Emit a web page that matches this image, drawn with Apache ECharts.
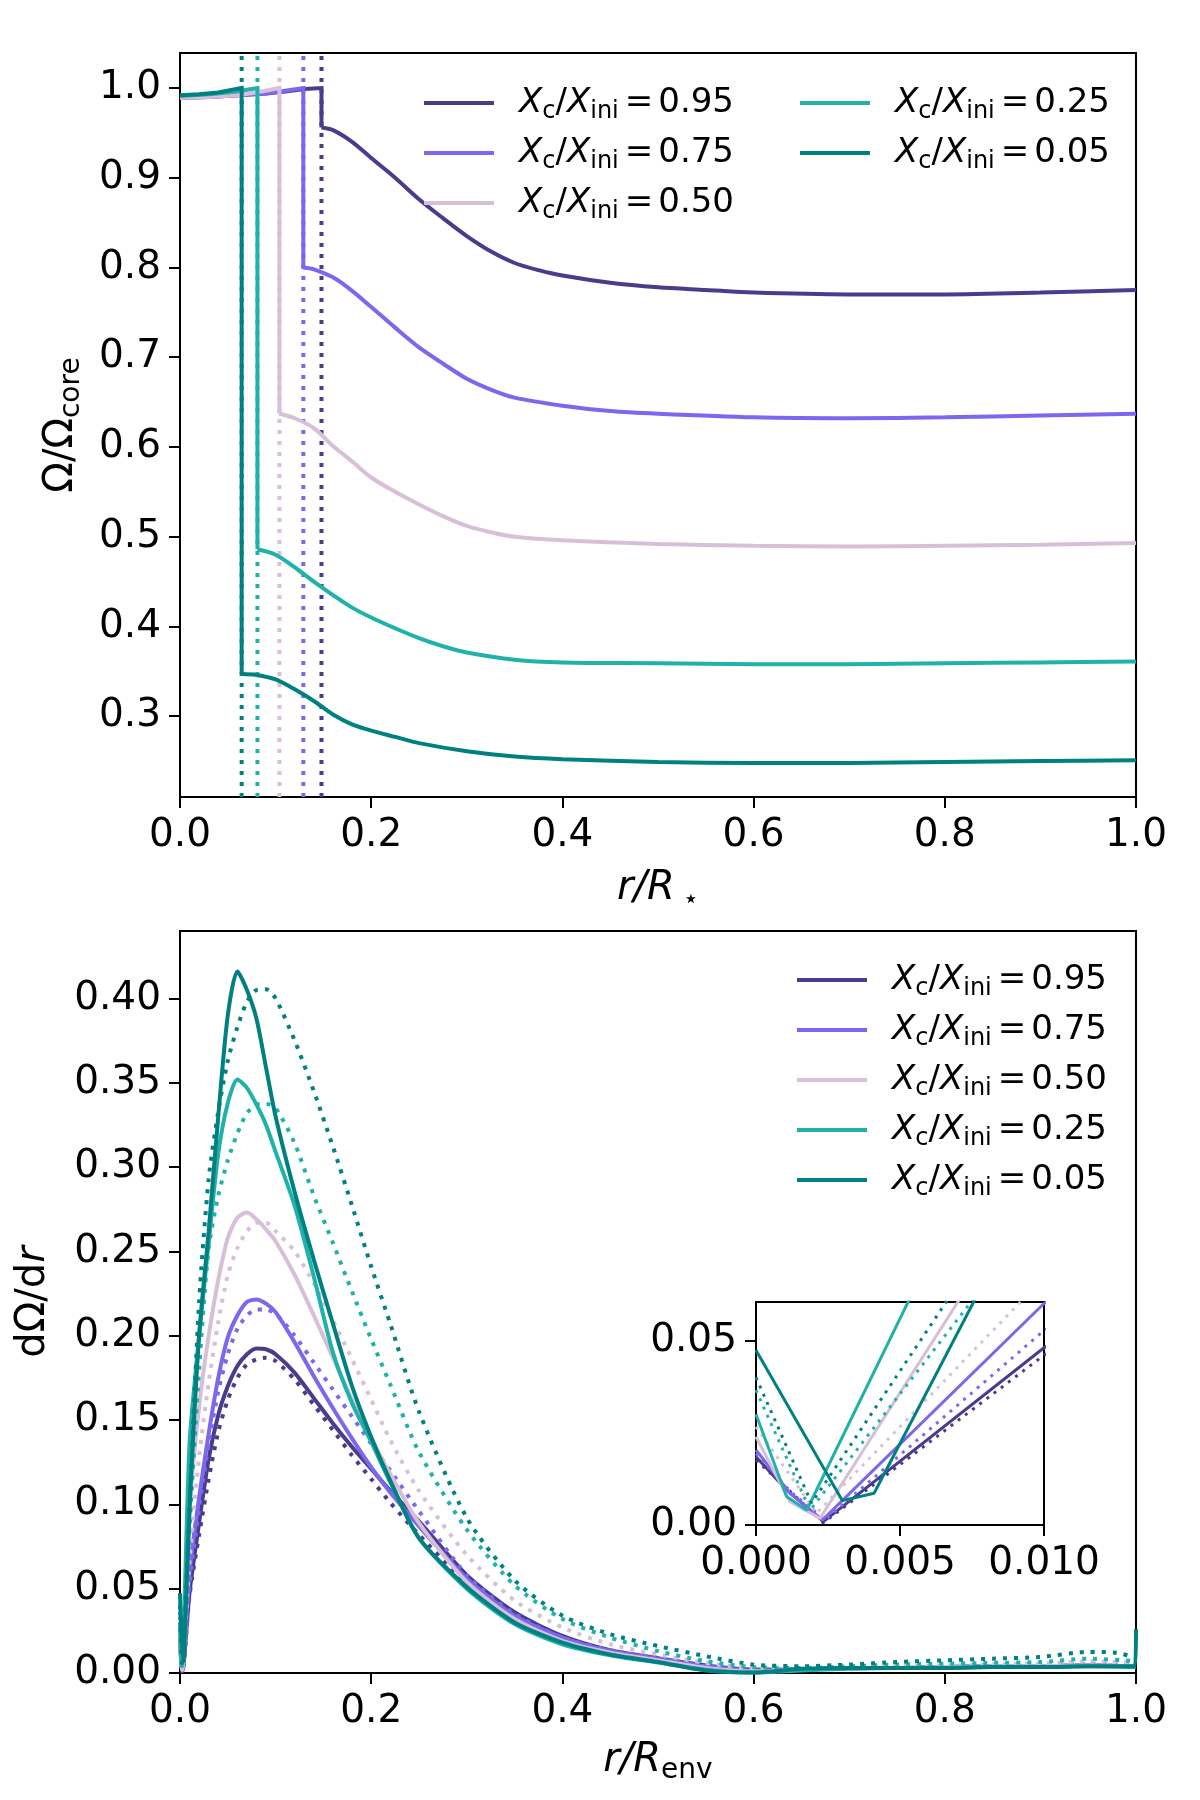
<!DOCTYPE html>
<html><head><meta charset="utf-8">
<script src="https://cdn.jsdelivr.net/npm/echarts@6/dist/echarts.min.js"></script>
<style>html,body{margin:0;padding:0;background:#fff}#c{width:1200px;height:1800px}</style>
</head><body><div id="c"></div>
<script>
// ---------- data ----------
const modelLabels = ['0.95', '0.75', '0.50', '0.25', '0.05'];
const modelColors = ['#483D8B', '#7B68EE', '#D8BFD8', '#20B2AA', '#008080'];
const jumpX = [0.148, 0.129, 0.104, 0.081, 0.0645];

// top panel: Omega/Omega_core vs r/R*
const omega95 = [[0,0.989],[0.03,0.990],[0.06,0.992],[0.09,0.994],[0.11,0.996],[0.13,0.999],[0.148,1.0],[0.148,0.956],[0.16,0.953],[0.18,0.940],[0.2,0.922],[0.225,0.900],[0.25,0.876],[0.275,0.855],[0.3,0.835],[0.325,0.818],[0.35,0.805],[0.375,0.797],[0.4,0.791],[0.45,0.783],[0.5,0.778],[0.55,0.775],[0.6,0.772],[0.7,0.770],[0.8,0.770],[0.9,0.772],[1.0,0.775]];
const omega75 = [[0,0.989],[0.03,0.990],[0.06,0.992],[0.09,0.994],[0.11,0.997],[0.129,1.0],[0.129,0.800],[0.14,0.798],[0.16,0.789],[0.18,0.774],[0.2,0.756],[0.225,0.733],[0.25,0.711],[0.275,0.693],[0.3,0.676],[0.325,0.664],[0.35,0.655],[0.4,0.646],[0.45,0.640],[0.5,0.637],[0.6,0.633],[0.7,0.632],[0.8,0.633],[0.9,0.635],[1.0,0.637]];
const omega50 = [[0,0.989],[0.03,0.990],[0.06,0.992],[0.08,0.995],[0.095,0.998],[0.104,1.0],[0.104,0.637],[0.12,0.632],[0.14,0.621],[0.16,0.601],[0.18,0.584],[0.2,0.566],[0.225,0.550],[0.25,0.536],[0.275,0.523],[0.3,0.512],[0.325,0.505],[0.35,0.500],[0.4,0.496],[0.5,0.492],[0.6,0.490],[0.7,0.489],[0.8,0.490],[0.9,0.491],[1.0,0.493]];
const omega25 = [[0,0.991],[0.03,0.993],[0.05,0.995],[0.07,0.998],[0.081,1.0],[0.081,0.486],[0.1,0.480],[0.12,0.466],[0.14,0.450],[0.16,0.435],[0.18,0.421],[0.2,0.410],[0.225,0.398],[0.25,0.387],[0.275,0.378],[0.3,0.371],[0.35,0.363],[0.4,0.360],[0.5,0.359],[0.6,0.358],[0.7,0.358],[0.8,0.359],[0.9,0.360],[1.0,0.361]];
const omega05 = [[0,0.992],[0.02,0.993],[0.04,0.995],[0.055,0.998],[0.0645,1.0],[0.0645,0.347],[0.08,0.346],[0.1,0.341],[0.12,0.330],[0.14,0.317],[0.16,0.302],[0.18,0.291],[0.2,0.284],[0.225,0.277],[0.25,0.270],[0.3,0.261],[0.35,0.255],[0.4,0.252],[0.5,0.249],[0.6,0.248],[0.7,0.248],[0.8,0.249],[0.9,0.250],[1.0,0.251]];

// bottom panel: dOmega/dr vs r/R_env (solid and dotted)
const dOm95 = [[0,0.0185],[0.00106,0.0095],[0.00234,0.0009],[0.01,0.048],[0.02,0.089],[0.03,0.127],[0.04,0.153],[0.05,0.170],[0.06,0.182],[0.07,0.189],[0.08,0.1925],[0.09,0.192],[0.1,0.189],[0.12,0.178],[0.14,0.163],[0.16,0.148],[0.18,0.134],[0.2,0.121],[0.22,0.108],[0.25,0.090],[0.3,0.058],[0.35,0.036],[0.4,0.022],[0.45,0.0135],[0.5,0.0088],[0.55,0.0045],[0.6,0.002],[0.65,0.002],[0.7,0.003],[0.75,0.003],[0.8,0.0035],[0.85,0.004],[0.9,0.004],[0.95,0.0045],[1.0,0.004]];
const dOm95dot = [[0,0.0176],[0.0012,0.009],[0.00234,0.0006],[0.01,0.046],[0.02,0.082],[0.03,0.115],[0.04,0.143],[0.05,0.162],[0.06,0.175],[0.07,0.183],[0.08,0.186],[0.09,0.187],[0.1,0.185],[0.12,0.174],[0.14,0.159],[0.16,0.144],[0.18,0.129],[0.2,0.115],[0.22,0.101],[0.25,0.082],[0.3,0.053],[0.35,0.032],[0.4,0.019],[0.45,0.012],[0.5,0.008],[0.55,0.004],[0.6,0.002],[0.65,0.002],[0.7,0.003],[0.75,0.003],[0.8,0.0035],[0.85,0.004],[0.9,0.004],[0.95,0.0045],[1.0,0.004]];
const dOm75 = [[0,0.0203],[0.00118,0.0086],[0.00231,0.0014],[0.01,0.060],[0.02,0.104],[0.03,0.142],[0.04,0.175],[0.05,0.199],[0.06,0.212],[0.07,0.220],[0.08,0.2215],[0.09,0.219],[0.1,0.214],[0.12,0.196],[0.14,0.176],[0.16,0.157],[0.18,0.139],[0.2,0.122],[0.22,0.107],[0.25,0.087],[0.3,0.056],[0.35,0.034],[0.4,0.021],[0.45,0.013],[0.5,0.0085],[0.55,0.004],[0.6,0.0015],[0.65,0.002],[0.7,0.003],[0.75,0.003],[0.8,0.0035],[0.85,0.004],[0.9,0.004],[0.95,0.0045],[1.0,0.004]];
const dOm75dot = [[0,0.0194],[0.0012,0.009],[0.0024,0.0014],[0.01,0.0527],[0.02,0.098],[0.03,0.136],[0.04,0.167],[0.05,0.189],[0.06,0.204],[0.07,0.212],[0.08,0.2155],[0.09,0.2155],[0.1,0.213],[0.12,0.200],[0.14,0.184],[0.16,0.168],[0.18,0.152],[0.2,0.136],[0.22,0.120],[0.25,0.096],[0.3,0.058],[0.35,0.035],[0.4,0.021],[0.45,0.0135],[0.5,0.009],[0.55,0.005],[0.6,0.002],[0.65,0.0025],[0.7,0.003],[0.75,0.0035],[0.8,0.004],[0.85,0.0045],[0.9,0.005],[0.95,0.0055],[1.0,0.005]];
const dOm50 = [[0,0.0239],[0.00118,0.0063],[0.00222,0.0018],[0.01,0.097],[0.02,0.158],[0.03,0.200],[0.04,0.233],[0.05,0.258],[0.06,0.270],[0.07,0.273],[0.08,0.269],[0.09,0.263],[0.1,0.256],[0.12,0.236],[0.14,0.212],[0.16,0.187],[0.18,0.162],[0.2,0.139],[0.22,0.118],[0.25,0.089],[0.3,0.054],[0.35,0.032],[0.4,0.019],[0.45,0.012],[0.5,0.0075],[0.55,0.003],[0.6,0.001],[0.65,0.002],[0.7,0.003],[0.75,0.003],[0.8,0.0035],[0.85,0.004],[0.9,0.004],[0.95,0.0045],[1.0,0.004]];
const dOm50dot = [[0,0.0266],[0.0021,0.0032],[0.01,0.067],[0.02,0.128],[0.03,0.172],[0.04,0.208],[0.05,0.236],[0.06,0.252],[0.07,0.262],[0.08,0.267],[0.09,0.267],[0.1,0.262],[0.12,0.250],[0.14,0.231],[0.16,0.209],[0.18,0.186],[0.2,0.162],[0.22,0.138],[0.25,0.108],[0.3,0.070],[0.35,0.043],[0.4,0.027],[0.45,0.017],[0.5,0.011],[0.55,0.006],[0.6,0.003],[0.65,0.003],[0.7,0.003],[0.75,0.004],[0.8,0.0045],[0.85,0.005],[0.9,0.0055],[0.95,0.007],[1.0,0.006]];
const dOm25 = [[0,0.030],[0.00106,0.0077],[0.00176,0.004],[0.01,0.136],[0.02,0.200],[0.03,0.255],[0.04,0.308],[0.05,0.338],[0.06,0.352],[0.07,0.347],[0.08,0.337],[0.09,0.325],[0.1,0.309],[0.12,0.277],[0.14,0.235],[0.16,0.190],[0.18,0.160],[0.2,0.137],[0.22,0.113],[0.25,0.080],[0.3,0.050],[0.35,0.029],[0.4,0.017],[0.45,0.0105],[0.5,0.0062],[0.55,0.002],[0.6,0.0003],[0.65,0.0015],[0.7,0.0025],[0.75,0.003],[0.8,0.003],[0.85,0.0035],[0.9,0.0035],[0.95,0.004],[1.0,0.0035]];
const dOm25dot = [[0,0.0365],[0.00188,0.004],[0.01,0.086],[0.02,0.180],[0.03,0.252],[0.04,0.283],[0.05,0.304],[0.06,0.320],[0.07,0.332],[0.08,0.337],[0.09,0.3375],[0.1,0.335],[0.12,0.314],[0.14,0.283],[0.16,0.255],[0.18,0.226],[0.2,0.198],[0.22,0.171],[0.25,0.131],[0.3,0.085],[0.35,0.052],[0.4,0.032],[0.45,0.021],[0.5,0.013],[0.55,0.007],[0.6,0.0035],[0.65,0.003],[0.7,0.004],[0.75,0.005],[0.8,0.0055],[0.85,0.006],[0.9,0.0065],[0.95,0.0085],[1.0,0.007]];
const dOm05 = [[0,0.0473],[0.003,0.0066],[0.0041,0.0086],[0.01,0.097],[0.02,0.200],[0.03,0.262],[0.04,0.330],[0.05,0.390],[0.06,0.416],[0.07,0.405],[0.08,0.388],[0.09,0.359],[0.1,0.330],[0.12,0.285],[0.14,0.245],[0.16,0.207],[0.18,0.170],[0.2,0.140],[0.22,0.114],[0.25,0.080],[0.3,0.051],[0.35,0.030],[0.4,0.018],[0.45,0.011],[0.5,0.0065],[0.55,0.0015],[0.6,0.0003],[0.65,0.0025],[0.7,0.003],[0.75,0.003],[0.8,0.003],[0.85,0.0035],[0.9,0.0035],[0.95,0.004],[0.999,0.004],[1.0,0.026]];
const dOm05dot = [[0,0.040],[0.00193,0.0059],[0.01,0.100],[0.02,0.220],[0.03,0.293],[0.04,0.333],[0.05,0.363],[0.06,0.383],[0.07,0.398],[0.08,0.405],[0.09,0.4055],[0.1,0.400],[0.12,0.375],[0.14,0.345],[0.16,0.312],[0.18,0.277],[0.2,0.241],[0.22,0.207],[0.25,0.155],[0.3,0.092],[0.35,0.055],[0.4,0.034],[0.45,0.023],[0.5,0.016],[0.55,0.010],[0.6,0.005],[0.65,0.004],[0.7,0.005],[0.75,0.0065],[0.8,0.0075],[0.85,0.0085],[0.9,0.0095],[0.95,0.0125],[0.98,0.012],[1.0,0.009]];

// ticks and ranges
const topXTicks = [0, 0.2, 0.4, 0.6, 0.8, 1.0];
const topYTicks = [0.3, 0.4, 0.5, 0.6, 0.7, 0.8, 0.9, 1.0];
const botXTicks = [0, 0.2, 0.4, 0.6, 0.8, 1.0];
const botYTicks = [0, 0.05, 0.10, 0.15, 0.20, 0.25, 0.30, 0.35, 0.40];
const insetXTicks = [0, 0.005, 0.010];
const insetYTicks = [0, 0.05];
const topYRange = [0.21, 1.039];
const botYRange = [0, 0.44];
const insetXRange = [0, 0.01];
const insetYRange = [0, 0.0604];

// ---------- chart ----------
const FONT = 'DejaVu Sans';
const omegaTop = [omega95, omega75, omega50, omega25, omega05];
const dSolid = [dOm95, dOm75, dOm50, dOm25, dOm05];
const dDotted = [dOm95dot, dOm75dot, dOm50dot, dOm25dot, dOm05dot];

const axisRich = {
  i: {fontFamily: FONT, fontSize: 40, fontStyle: 'italic', color: '#000', lineHeight: 48},
  n: {fontFamily: FONT, fontSize: 40, color: '#000', lineHeight: 48},
  s: {fontFamily: FONT, fontSize: 28, color: '#000', lineHeight: 28, verticalAlign: 'bottom'},
  st: {fontFamily: FONT, fontSize: 26, color: '#000', lineHeight: 26, verticalAlign: 'bottom', padding: [0, 0, 0, 8]}
};
const legendRich = {
  i: {fontFamily: FONT, fontSize: 34, fontStyle: 'italic', color: '#000', lineHeight: 42},
  n: {fontFamily: FONT, fontSize: 34, color: '#000', lineHeight: 42},
  eq: {fontFamily: FONT, fontSize: 34, color: '#000', lineHeight: 42, padding: [0, 5, 0, 6]},
  s: {fontFamily: FONT, fontSize: 24, color: '#000', lineHeight: 24, verticalAlign: 'bottom'}
};
function legendFmt(name) {
  return '{i|X}{s|c}{n|/}{i|X}{s|ini}{eq|=}{n|' + name + '}';
}

function valAxis(gi, range, ticks, digits, extra) {
  return Object.assign({
    type: 'value', gridIndex: gi, min: range[0], max: range[1],
    axisLine: {show: true, onZero: false, lineStyle: {color: '#000', width: 2}},
    axisTick: {show: true, length: 11, customValues: ticks, lineStyle: {color: '#000', width: 2}},
    axisLabel: {customValues: ticks, color: '#000', fontFamily: FONT, fontSize: 39, margin: 19,
      formatter: v => Number(v).toFixed(digits)},
    splitLine: {show: false},
    nameTextStyle: {fontFamily: FONT, fontSize: 40, color: '#000', rich: axisRich}
  }, extra || {});
}

const series = [];
// top: vertical dotted lines at the core boundaries
modelLabels.forEach((lab, i) => {
  series.push({
    type: 'line', name: lab + ' boundary', xAxisIndex: 0, yAxisIndex: 0,
    data: [[jumpX[i], topYRange[0]], [jumpX[i], topYRange[1]]],
    showSymbol: false, silent: true,
    lineStyle: {color: modelColors[i], width: 4, type: [4, 7], cap: 'butt'}
  });
});
// top: profile split at the jump (core part straight, envelope part smoothed)
modelLabels.forEach((lab, i) => {
  const d = omegaTop[i];
  let j = 0;
  for (let k = 0; k < d.length - 1; k++) { if (d[k][0] === d[k + 1][0]) { j = k; break; } }
  series.push({
    type: 'line', name: lab, xAxisIndex: 0, yAxisIndex: 0, data: d.slice(0, j + 2),
    showSymbol: false, itemStyle: {color: modelColors[i]},
    lineStyle: {color: modelColors[i], width: 4, join: 'miter'}
  });
  series.push({
    type: 'line', name: lab, xAxisIndex: 0, yAxisIndex: 0, data: d.slice(j + 1),
    showSymbol: false, smooth: 0.3, itemStyle: {color: modelColors[i]},
    lineStyle: {color: modelColors[i], width: 4}
  });
});
// bottom main + inset
[[1, 4, [4, 7], 0.25], [2, 3, [3, 6], false]].forEach(([ai, w, dash, sm]) => {
  modelLabels.forEach((lab, i) => {
    series.push({
      type: 'line', name: ai === 1 ? lab : lab + ' inset', xAxisIndex: ai, yAxisIndex: ai, data: dSolid[i],
      showSymbol: false, smooth: sm, itemStyle: {color: modelColors[i]}, clip: true,
      lineStyle: {color: modelColors[i], width: w}
    });
    series.push({
      type: 'line', name: lab + ' dotted' + ai, xAxisIndex: ai, yAxisIndex: ai, data: dDotted[i],
      showSymbol: false, smooth: sm, itemStyle: {color: modelColors[i]}, clip: true,
      lineStyle: {color: modelColors[i], width: w, type: dash, cap: 'butt'}
    });
  });
});

const legendBase = {
  orient: 'vertical', itemGap: 12, itemWidth: 70, itemHeight: 4, icon: 'rect', padding: 0,
  selectedMode: false, formatter: legendFmt,
  textStyle: {fontFamily: FONT, fontSize: 34, color: '#000', padding: [0, 0, 0, 20], rich: legendRich}
};

const option = {
  backgroundColor: '#fff',
  animation: false,
  grid: [
    {left: 180, top: 53, width: 956, height: 744, show: true, borderColor: '#000', borderWidth: 2, backgroundColor: 'transparent'},
    {left: 180, top: 931, width: 956, height: 742, show: true, borderColor: '#000', borderWidth: 2, backgroundColor: 'transparent'},
    {left: 756, top: 1302, width: 288, height: 223, show: true, borderColor: '#000', borderWidth: 2, backgroundColor: '#fff'}
  ],
  xAxis: [
    valAxis(0, [0, 1], topXTicks, 1, {name: '{i|r/R}{st|⋆}', nameLocation: 'middle', nameGap: 68}),
    valAxis(1, [0, 1], botXTicks, 1, {name: '{i|r/R}{s|env}', nameLocation: 'middle', nameGap: 64}),
    valAxis(2, insetXRange, insetXTicks, 3)
  ],
  yAxis: [
    valAxis(0, topYRange, topYTicks, 1, {name: '{n|Ω/Ω}{s|core}', nameLocation: 'middle', nameRotate: 90, nameGap: 94}),
    valAxis(1, botYRange, botYTicks, 2, {name: '{n|dΩ/d}{i|r}', nameLocation: 'middle', nameRotate: 90, nameGap: 122}),
    valAxis(2, insetYRange, insetYTicks, 2)
  ],
  legend: [
    Object.assign({}, legendBase, {data: ['0.95', '0.75', '0.50'], left: 424, top: 86}),
    Object.assign({}, legendBase, {data: ['0.25', '0.05'], left: 800, top: 86}),
    Object.assign({}, legendBase, {data: modelLabels.slice(), left: 797, top: 963})
  ],
  series: series
};

const chart = echarts.init(document.getElementById('c'), null, {renderer: 'canvas', width: 1200, height: 1800});
chart.setOption(option);
</script>
</body></html>
